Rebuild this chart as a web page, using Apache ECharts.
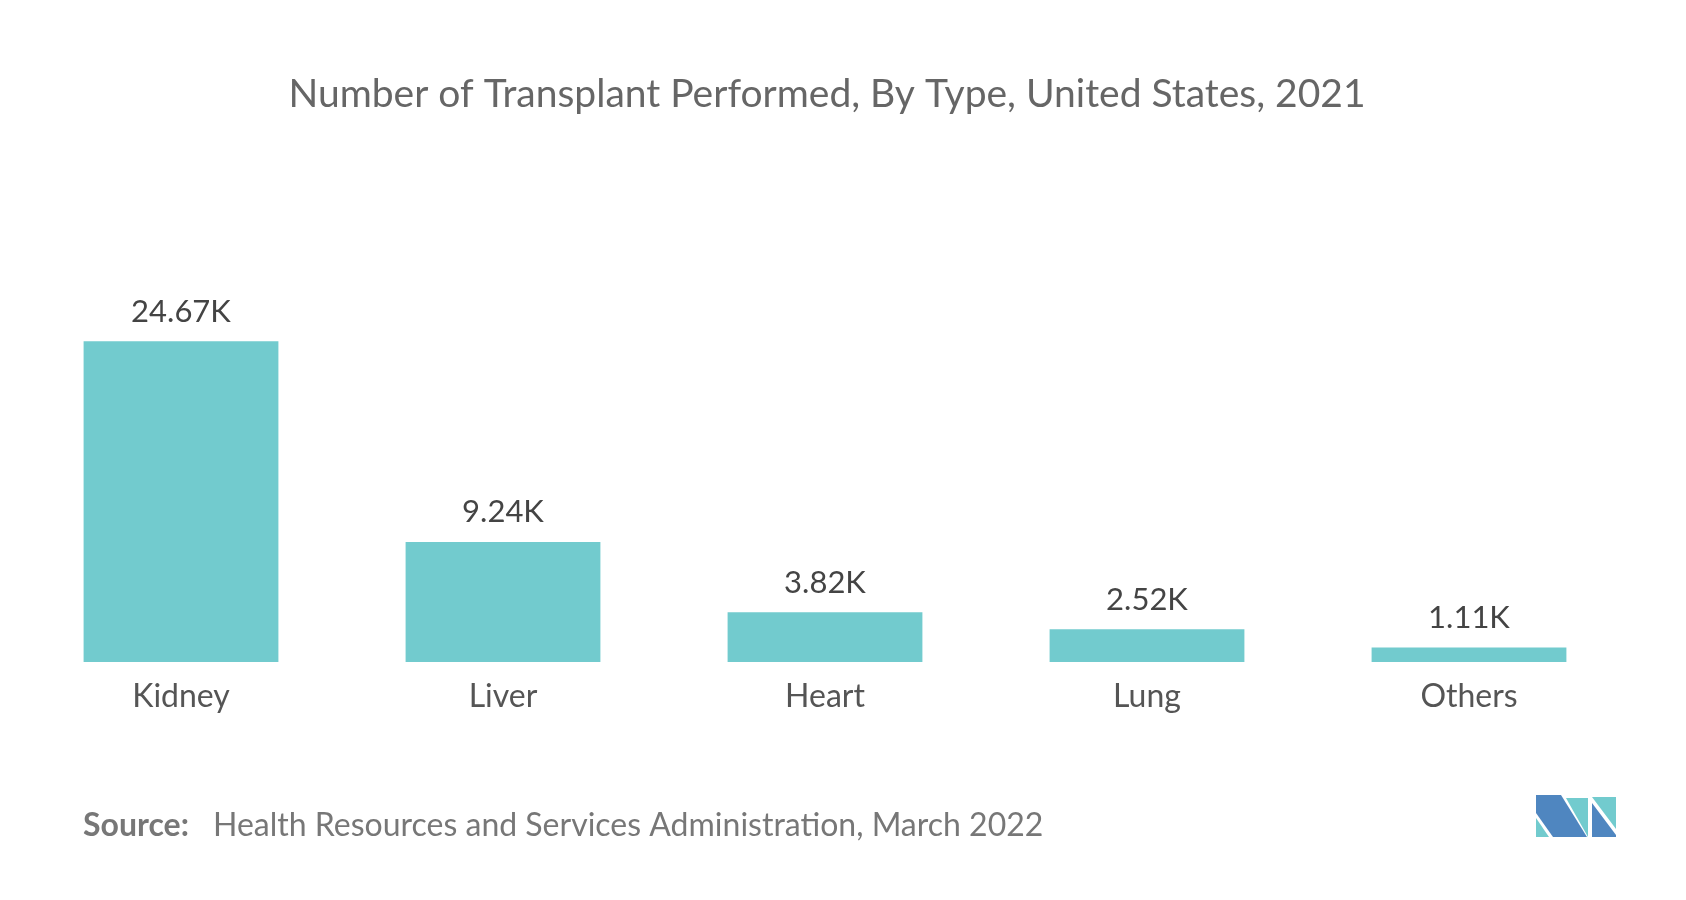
<!DOCTYPE html>
<html>
<head>
<meta charset="utf-8">
<script src="https://cdn.jsdelivr.net/npm/echarts@6/dist/echarts.min.js"></script>
<style>html,body{margin:0;padding:0;background:#fff;}#c{width:1686px;height:900px;}</style>
</head>
<body>
<div id="c"></div>
<script>
const categories = ['Kidney', 'Liver', 'Heart', 'Lung', 'Others'];
const values = [24.67, 9.24, 3.82, 2.52, 1.11];
const titleText = 'Number of Transplant Performed, By Type, United States, 2021';
const sourceLabel = 'Source:';
const sourceText = 'Health Resources and Services Administration, March 2022';

const chart = echarts.init(document.getElementById('c'), null, {renderer: 'canvas'});
const FONT = 'Lato';
chart.setOption({
  backgroundColor: '#ffffff',
  animation: false,
  title: {
    text: titleText,
    left: 822, top: 70, textAlign: 'center',
    textStyle: {fontFamily: FONT, fontSize: 39, fontWeight: 'normal', color: '#666666'}
  },
  grid: {left: 20, right: 56, top: 272, bottom: 238, containLabel: false},
  xAxis: {
    type: 'category', data: categories,
    axisLine: {show: false}, axisTick: {show: false},
    axisLabel: {fontFamily: FONT, fontSize: 32, color: '#555555', margin: 19}
  },
  yAxis: {
    type: 'value', min: 0, max: 30, show: false, splitLine: {show: false}
  },
  series: [{
    type: 'bar', data: values, barWidth: '60.5%',
    itemStyle: {color: '#72CBCE'},
    label: {
      show: true, position: 'top', distance: 14,
      fontFamily: FONT, fontSize: 31, color: '#444444',
      formatter: p => p.value.toFixed(2).replace(/0$/, '').replace(/\.$/, '') + 'K'
    }
  }],
  graphic: [
    {type: 'text', left: 83, top: 810, style: {text: sourceLabel, fontFamily: FONT, fontSize: 32, fontWeight: 'bold', fill: '#777777'}},
    {type: 'text', left: 213, top: 810, style: {text: sourceText, fontFamily: FONT, fontSize: 32, fill: '#777777'}},
    {type: 'group', left: 1536, top: 795, children: [
      {type: 'polygon', shape: {points: [[0,0],[25,0],[51,42],[17,42],[0,18]]}, style: {fill: '#4F86C0'}},
      {type: 'polygon', shape: {points: [[0,23],[0,42],[13,42]]}, style: {fill: '#72CBCE'}},
      {type: 'polygon', shape: {points: [[30,3],[52,3],[52,42]]}, style: {fill: '#72CBCE'}},
      {type: 'polygon', shape: {points: [[56,2],[80,2],[80,34]]}, style: {fill: '#72CBCE'}},
      {type: 'polygon', shape: {points: [[56,8],[80,40],[80,42],[56,42]]}, style: {fill: '#4F86C0'}}
    ]}
  ]
});
</script>
</body>
</html>
